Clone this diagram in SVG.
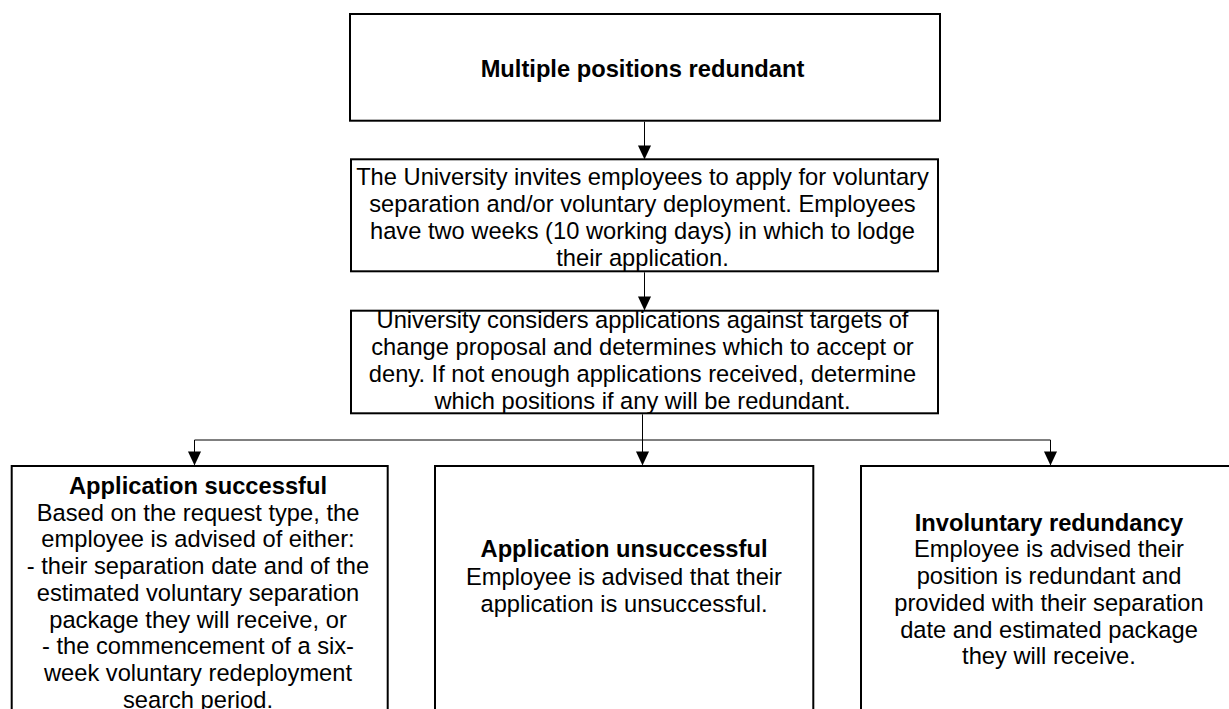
<svg xmlns="http://www.w3.org/2000/svg" width="1229" height="709" viewBox="0 0 1229 709">
<style>
.box{fill:#fff;stroke:#000;stroke-width:2}
.t{font-family:"Liberation Sans",Arial,sans-serif;font-size:23.7px;fill:#000;text-anchor:middle}
.b{font-weight:bold}
.c{stroke:#000;stroke-width:1;fill:none}
</style>
<defs>
<marker id="ah" markerUnits="userSpaceOnUse" markerWidth="14" markerHeight="15" refX="14" refY="7" orient="auto" viewBox="0 0 15 14">
<path d="M0,0 L15,7 L0,14 Z" fill="#000"/>
</marker>
</defs>
<rect width="1229" height="709" fill="#fff"/>
<g id="n1">
<rect class="box" x="350" y="14" width="590" height="106.7"/>
<text class="t b" x="642.5" y="77">Multiple positions redundant</text>
</g>
<g id="n2">
<rect class="box" x="351" y="159.3" width="587" height="112"/>
<text class="t" x="642.5"><tspan x="642.5" y="185">The University invites employees to apply for voluntary</tspan><tspan x="642.5" y="212">separation and/or voluntary deployment. Employees</tspan><tspan x="642.5" y="239">have two weeks (10 working days) in which to lodge</tspan><tspan x="642.5" y="266">their application.</tspan></text>
</g>
<g id="n3">
<rect class="box" x="351" y="310.7" width="587" height="102.6"/>
<text class="t" x="642.5"><tspan x="642.5" y="328">University considers applications against targets of</tspan><tspan x="642.5" y="355">change proposal and determines which to accept or</tspan><tspan x="642.5" y="382">deny. If not enough applications received, determine</tspan><tspan x="642.5" y="409">which positions if any will be redundant.</tspan></text>
</g>
<g id="n4">
<rect class="box" x="11.7" y="466" width="376" height="300"/>
<text class="t"><tspan class="b" x="198" y="494">Application successful</tspan><tspan x="198" y="520.7">Based on the request type, the</tspan><tspan x="198" y="547.4">employee is advised of either:</tspan><tspan x="198" y="574.1">- their separation date and of the</tspan><tspan x="198" y="600.8">estimated voluntary separation</tspan><tspan x="198" y="627.5">package they will receive, or</tspan><tspan x="198" y="654.2">- the commencement of a six-</tspan><tspan x="198" y="680.9">week voluntary redeployment</tspan><tspan x="198" y="707.6">search period.</tspan></text>
</g>
<g id="n5">
<rect class="box" x="435" y="466" width="378.3" height="300"/>
<text class="t"><tspan class="b" x="624" y="557">Application unsuccessful</tspan><tspan x="624" y="584.5">Employee is advised that their</tspan><tspan x="624" y="612">application is unsuccessful.</tspan></text>
</g>
<g id="n6">
<rect class="box" x="861" y="466" width="376" height="300"/>
<text class="t"><tspan class="b" x="1049" y="530.7">Involuntary redundancy</tspan><tspan x="1049" y="557.4">Employee is advised their</tspan><tspan x="1049" y="584.1">position is redundant and</tspan><tspan x="1049" y="610.8">provided with their separation</tspan><tspan x="1049" y="637.5">date and estimated package</tspan><tspan x="1049" y="664.2">they will receive.</tspan></text>
</g>
<g id="connectors">
<line class="c" x1="644.5" y1="121.7" x2="644.5" y2="158.5" marker-end="url(#ah)"/>
<line class="c" x1="644.5" y1="272.3" x2="644.5" y2="309.5" marker-end="url(#ah)"/>
<line class="c" x1="642.5" y1="414.3" x2="642.5" y2="464.5" marker-end="url(#ah)"/>
<polyline class="c" points="194.5,464.5 194.5,440 1050.5,440 1050.5,464.5"/>
<line class="c" x1="194.5" y1="440" x2="194.5" y2="464.5" marker-end="url(#ah)"/>
<line class="c" x1="1050.5" y1="440" x2="1050.5" y2="464.5" marker-end="url(#ah)"/>
</g>
</svg>
